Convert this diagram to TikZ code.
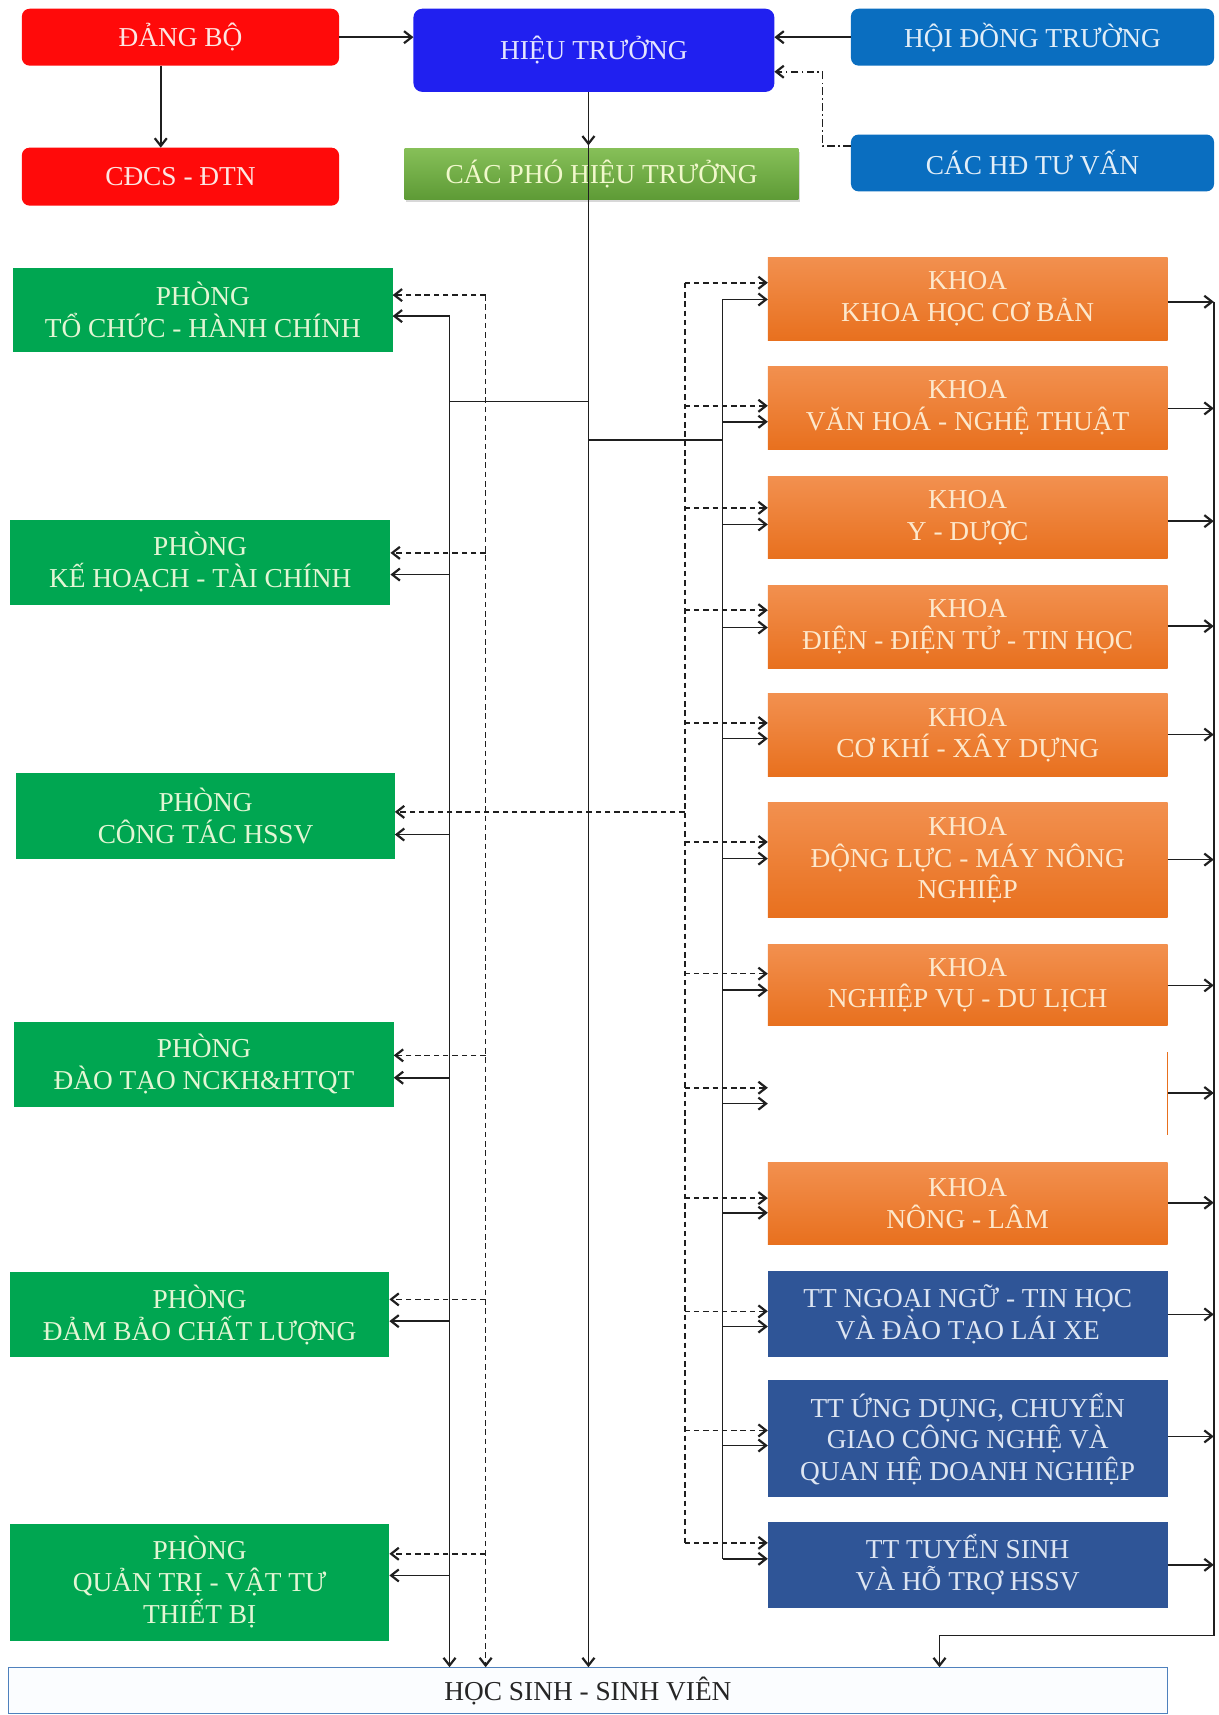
\documentclass[tikz,border=0pt]{standalone}
\usepackage{fontspec}
\setmainfont{Liberation Serif}
\usetikzlibrary{arrows.meta,shadows}
\definecolor{cRed}{HTML}{FF0A0A}
\definecolor{cRedT}{HTML}{FDE6E2}
\definecolor{cHT}{HTML}{2020F0}
\definecolor{cHTT}{HTML}{E4E4FF}
\definecolor{cHD}{HTML}{0A6EC0}
\definecolor{cHDT}{HTML}{E2EEF8}
\definecolor{cPhoA}{HTML}{86BF58}
\definecolor{cPhoB}{HTML}{5E9B36}
\definecolor{cPhoT}{HTML}{F1F8CC}
\definecolor{cGr}{HTML}{00A651}
\definecolor{cGrT}{HTML}{E3F6D4}
\definecolor{cOrA}{HTML}{F2904F}
\definecolor{cOrB}{HTML}{E8701E}
\definecolor{cOrT}{HTML}{FDE8CC}
\definecolor{cTT}{HTML}{2F5597}
\definecolor{cTTT}{HTML}{DDE5F2}
\definecolor{cHSb}{HTML}{4F81BD}
\definecolor{cHSf}{HTML}{FBFDFF}
\newcommand\mkbox[7]{%
  \pgfmathsetmacro\bxcx{(#3+#5)/2}\pgfmathsetmacro\bxcy{(#4+#6)/2}%
  \pgfmathsetmacro\bxw{#5-#3}\pgfmathsetmacro\bxh{#6-#4}%
  \node[#2, minimum width=\bxw pt, minimum height=\bxh pt] (#1) at (\bxcx,\bxcy) {#7};}
\begin{document}
\begin{tikzpicture}[x=1pt,y=-1pt,
  base/.style={inner sep=2pt, outer sep=0pt, align=center, font=\fontsize{25}{29}\selectfont},
  redbox/.style={base, fill=cRed, text=cRedT, rounded corners=7pt},
  htbox/.style={base, fill=cHT, text=cHTT, rounded corners=8pt},
  hdbox/.style={base, fill=cHD, text=cHDT, rounded corners=7pt},
  phobox/.style={base, top color=cPhoA, bottom color=cPhoB, text=cPhoT, drop shadow={opacity=0.3,shadow xshift=1pt,shadow yshift=-3pt}},
  grbox/.style={base, fill=cGr, text=cGrT},
  orbox/.style={base, top color=cOrA, bottom color=cOrB, text=cOrT},
  blankbox/.style={base},
  ttbox/.style={base, fill=cTT, text=cTTT},
  hsbox/.style={base, draw=cHSb, line width=1pt, fill=cHSf, text=black!85},
  sol/.style={line width=1.5pt, draw=black!88},
  dsh/.style={sol, dash pattern=on 5pt off 3.5pt},
  dd/.style={sol, dash pattern=on 7pt off 3pt on 1.5pt off 3pt},
  >={Straight Barb[length=7pt,width=11pt,line width=2pt]}]
\useasboundingbox[fill=white] (0,0) rectangle (1114,1568);

% top row
\mkbox{dang}{redbox}{20}{8}{310}{60}{ĐẢNG BỘ}
\mkbox{cdcs}{redbox}{20}{135}{310}{188}{CĐCS - ĐTN}
\mkbox{ht}{htbox}{378}{8}{708}{84}{HIỆU TRƯỞNG}
\mkbox{hdt}{hdbox}{778}{8}{1110}{60}{HỘI ĐỒNG TRƯỜNG}
\mkbox{hdtv}{hdbox}{778}{123}{1110}{175}{CÁC HĐ TƯ VẤN}
\mkbox{pho}{phobox}{370}{136}{730}{182}{CÁC PHÓ HIỆU TRƯỞNG}

% left column
\mkbox{tc}{grbox}{12}{245}{359}{322}{PHÒNG\\TỔ CHỨC - HÀNH CHÍNH}
\mkbox{kh}{grbox}{9}{475}{357}{553}{PHÒNG\\KẾ HOẠCH - TÀI CHÍNH}
\mkbox{ct}{grbox}{15}{707}{361}{785}{PHÒNG\\CÔNG TÁC HSSV}
\mkbox{dt}{grbox}{13}{934}{360}{1012}{PHÒNG\\ĐÀO TẠO NCKH\&HTQT}
\mkbox{db}{grbox}{9}{1163}{356}{1241}{PHÒNG\\ĐẢM BẢO CHẤT LƯỢNG}
\mkbox{qt}{grbox}{9}{1393}{356}{1500}{PHÒNG\\QUẢN TRỊ - VẬT TƯ\\THIẾT BỊ}

% right column
\mkbox{k1}{orbox}{702}{235}{1067.5}{311.5}{KHOA\\KHOA HỌC CƠ BẢN}
\mkbox{k2}{orbox}{702}{335}{1067.5}{411}{KHOA\\VĂN HOÁ - NGHỆ THUẬT}
\mkbox{k3}{orbox}{702}{436}{1067.5}{511}{KHOA\\Y - DƯỢC}
\mkbox{k4}{orbox}{702}{535}{1067.5}{611}{KHOA\\ĐIỆN - ĐIỆN TỬ - TIN HỌC}
\mkbox{k5}{orbox}{702}{634.5}{1067.5}{710}{KHOA\\CƠ KHÍ - XÂY DỰNG}
\mkbox{k6}{orbox}{702}{734}{1067.5}{839}{KHOA\\ĐỘNG LỰC - MÁY NÔNG\\NGHIỆP}
\mkbox{k7}{orbox}{702}{863.5}{1067.5}{938}{KHOA\\NGHIỆP VỤ - DU LỊCH}
\mkbox{k8}{blankbox}{702}{962}{1067.5}{1038}{}
\draw[cOrB, line width=1.3pt] (k8.north east) -- (k8.south east);
\mkbox{k9}{orbox}{702}{1062.5}{1067.5}{1138}{KHOA\\NÔNG - LÂM}
\mkbox{t1}{ttbox}{702}{1162}{1067.5}{1241}{TT NGOẠI NGỮ - TIN HỌC\\VÀ ĐÀO TẠO LÁI XE}
\mkbox{t2}{ttbox}{702}{1262}{1067.5}{1369}{TT ỨNG DỤNG, CHUYỂN\\GIAO CÔNG NGHỆ VÀ\\QUAN HỆ DOANH NGHIỆP}
\mkbox{t3}{ttbox}{702}{1391.5}{1067.5}{1470}{TT TUYỂN SINH\\VÀ HỖ TRỢ HSSV}

% bottom
\mkbox{hs}{hsbox}{7.6}{1524.3}{1067.5}{1567}{HỌC SINH - SINH VIÊN}

% top connectors
\draw[sol,->] (dang.east) -- (ht.west |- dang.east);
\draw[sol,->] (dang.south -| 147,0) -- (cdcs.north -| 147,0);
\draw[sol,->] (hdt.west) -- (ht.east |- hdt.west);
\draw[dd,->] (hdtv.west |- 0,133.5) -- (752,133.5) -- (752,65.6) -- (ht.east |- 0,65.6);

% trunk
\coordinate (tp) at (538,133);
\draw[sol,->] (ht.south -| 538,0) -- (tp);
\draw[sol,->] (tp) -- (hs.north -| 538,0);
\draw[sol] (538,367) -- (411,367);
\draw[sol] (538,402.4) -- (660.6,402.4);

% left buses
\draw[sol,->] (411,289) -- (hs.north -| 411,0);
\draw[dsh,->] (444,269.8) -- (hs.north -| 444,0);
\foreach \n/\yd/\ys in {tc/269.8/289, kh/505.5/525.3, dt/964.9/985.3, db/1188/1207.9, qt/1420.6/1440.4}{
  \draw[dsh,->] (444,\yd) -- (\n.east |- 0,\yd);
  \draw[sol,->] (411,\ys) -- (\n.east |- 0,\ys);
}
\draw[dsh,->] (626,742.3) -- (ct.east |- 0,742.3);
\draw[sol,->] (411,763) -- (ct.east |- 0,763);

% right buses
\draw[sol] (660.6,273.8) -- (660.6,1425.2);
\draw[dsh] (626,258.5) -- (626,1410.6);
\foreach \n/\yd/\ys/\yr in {k1/258.5/273.8/275.9, k2/371/385.6/373.4, k3/464.3/479.5/476.5,
  k4/557.9/573.7/572.5, k5/661/675.3/671.6, k6/769.8/785/785.9, k7/890.2/905.4/900.9,
  k8/994.5/1009/999.3, k9/1095.4/1108.8/1099.6, t1/1199/1212.8/1201.7,
  t2/1307.8/1321.6/1313.3, t3/1410.6/1425.2/1430.7}{
  \draw[dsh,->] (626,\yd) -- (\n.west |- 0,\yd);
  \draw[sol,->] (660.6,\ys) -- (\n.west |- 0,\ys);
  \draw[sol,->] (\n.east |- 0,\yr) -- (1109.7,\yr);
}
\draw[sol,->] (1109.7,275.9) -- (1109.7,1495.3) -- (859,1495.3) -- (hs.north -| 859,0);
\end{tikzpicture}
\end{document}
